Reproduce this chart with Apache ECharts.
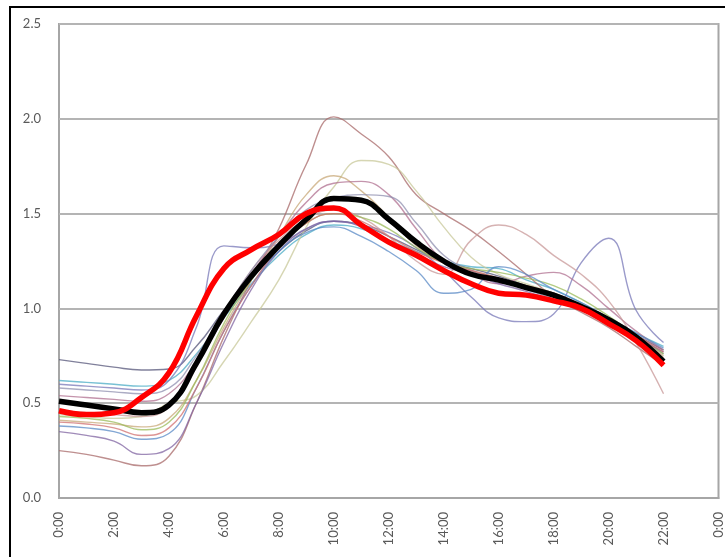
<!DOCTYPE html>
<html>
<head>
<meta charset="utf-8">
<script src="https://cdn.jsdelivr.net/npm/echarts@6/dist/echarts.min.js"></script>
<style>
html,body{margin:0;padding:0;background:#fff;}
#c{width:725px;height:557px;}
</style>
</head>
<body>
<div id="c"></div>
<script>
const hours = [0,1,2,3,4,5,6,7,8,9,10,11,12,13,14,15,16,17,18,19,20,21,22];
const yTicks = [0.0,0.5,1.0,1.5,2.0,2.5];

const thinNames = ['s1','s2','s3','s4','s5','s6','s7','s8','s9','s10','s11','s12','s13'];
const thinColors = ['#55557a','#4bacc6','#7878b8','#a86a6a','#c8c89a','#c8a878','#b07090','#c89898','#9090b0','#9bbb59','#8064a2','#5a8ac6','#d07070'];

const s1  = [0.73,0.71,0.69,0.675,0.68,0.80,0.99,1.16,1.30,1.41,1.46,1.44,1.38,1.31,1.25,1.21,1.17,1.12,1.07,1.01,0.94,0.86,0.78];
const s2  = [0.62,0.61,0.60,0.59,0.62,0.76,0.95,1.13,1.28,1.39,1.44,1.42,1.36,1.30,1.25,1.22,1.21,1.15,1.10,1.03,0.95,0.87,0.80];
const s3  = [0.60,0.59,0.58,0.57,0.62,0.90,1.33,1.32,1.34,1.42,1.46,1.44,1.40,1.32,1.20,1.06,0.95,0.93,0.97,1.24,1.37,0.99,0.82];
const s4  = [0.25,0.23,0.20,0.17,0.22,0.50,0.85,1.15,1.42,1.76,2.01,1.92,1.80,1.60,1.50,1.41,1.30,1.18,1.06,0.98,0.90,0.80,0.70];
const s5  = [0.44,0.43,0.42,0.43,0.50,0.54,0.72,0.93,1.15,1.43,1.64,1.78,1.76,1.62,1.43,1.27,1.18,1.13,1.08,1.02,0.94,0.84,0.74];
const s6  = [0.41,0.40,0.39,0.375,0.42,0.62,0.90,1.15,1.38,1.60,1.70,1.62,1.48,1.33,1.24,1.20,1.16,1.12,1.08,1.02,0.94,0.85,0.75];
const s7  = [0.54,0.53,0.52,0.51,0.55,0.72,0.95,1.18,1.38,1.56,1.66,1.67,1.60,1.42,1.25,1.18,1.13,1.17,1.19,1.12,1.00,0.88,0.78];
const s8  = [0.46,0.45,0.44,0.43,0.48,0.70,0.97,1.20,1.36,1.47,1.52,1.48,1.38,1.25,1.18,1.36,1.44,1.39,1.28,1.18,1.04,0.82,0.55];
const s9  = [0.58,0.57,0.56,0.55,0.58,0.75,0.98,1.20,1.38,1.52,1.58,1.60,1.59,1.45,1.28,1.20,1.15,1.10,1.05,1.00,0.93,0.85,0.76];
const s10 = [0.43,0.42,0.40,0.36,0.40,0.62,0.92,1.15,1.32,1.45,1.50,1.48,1.42,1.32,1.24,1.21,1.19,1.16,1.12,1.05,0.96,0.86,0.76];
const s11 = [0.35,0.33,0.30,0.23,0.26,0.50,0.82,1.10,1.30,1.42,1.46,1.43,1.35,1.28,1.22,1.18,1.13,1.09,1.04,0.99,0.93,0.85,0.77];
const s12 = [0.38,0.37,0.35,0.31,0.34,0.58,0.88,1.12,1.30,1.40,1.43,1.38,1.30,1.20,1.08,1.10,1.22,1.18,1.10,1.03,0.95,0.87,0.79];
const s13 = [0.40,0.39,0.37,0.33,0.37,0.58,0.88,1.12,1.32,1.45,1.50,1.46,1.38,1.30,1.24,1.20,1.16,1.12,1.08,1.02,0.95,0.86,0.77];
const thinValues = [s1,s2,s3,s4,s5,s6,s7,s8,s9,s10,s11,s12,s13];

const meanBlack = [0.51,0.49,0.47,0.45,0.49,0.71,0.97,1.17,1.33,1.47,1.58,1.57,1.47,1.35,1.25,1.18,1.15,1.11,1.07,1.01,0.94,0.85,0.72];
const meanRed   = [0.46,0.44,0.45,0.53,0.66,0.96,1.21,1.31,1.39,1.50,1.53,1.44,1.35,1.28,1.20,1.13,1.08,1.07,1.04,1.00,0.92,0.83,0.70];

const pairs = vals => hours.map((h,i)=>[h, vals[i]]);

const series = [];
thinValues.forEach((vals,k)=>{
  series.push({
    name: thinNames[k], type:'line', smooth:0.45, symbol:'none',
    data: pairs(vals),
    lineStyle:{color:thinColors[k], width:1.4, opacity:0.75},
    z:2
  });
});
series.push({name:'black', type:'line', smooth:0.45, symbol:'none', data:pairs(meanBlack),
  lineStyle:{color:'#000', width:5.5}, z:5});
series.push({name:'red', type:'line', smooth:0.45, symbol:'none', data:pairs(meanRed),
  lineStyle:{color:'#ff0000', width:5.5}, z:6});

const chart = echarts.init(document.getElementById('c'), null, {renderer:'canvas'});
chart.setOption({
  animation:false,
  backgroundColor:'#fff',
  grid:{left:59, top:24, right:3, bottom:59, show:true, borderColor:'#a6a6a6', borderWidth:2},
  xAxis:{
    type:'value', min:0, max:24, interval:2,
    axisLine:{show:true, lineStyle:{color:'#a6a6a6', width:2}},
    axisTick:{show:false},
    splitLine:{show:false},
    axisLabel:{rotate:90, margin:14, color:'#595959', fontSize:13, fontFamily:'Lato',
      formatter: v => v%24 + ':00'}
  },
  yAxis:{
    type:'value', min:yTicks[0], max:yTicks[yTicks.length-1], interval:0.5,
    axisLine:{show:false}, axisTick:{show:false},
    splitLine:{show:true, lineStyle:{color:'#b4b4b4', width:2}},
    axisLabel:{margin:18, color:'#595959', fontSize:13, fontFamily:'Lato',
      formatter: v => v.toFixed(1)}
  },
  graphic:[{type:'rect', shape:{x:10, y:7, width:740, height:580},
    style:{fill:null, stroke:'#000', lineWidth:2}, z:100}],
  series: series
});
</script>
</body>
</html>
